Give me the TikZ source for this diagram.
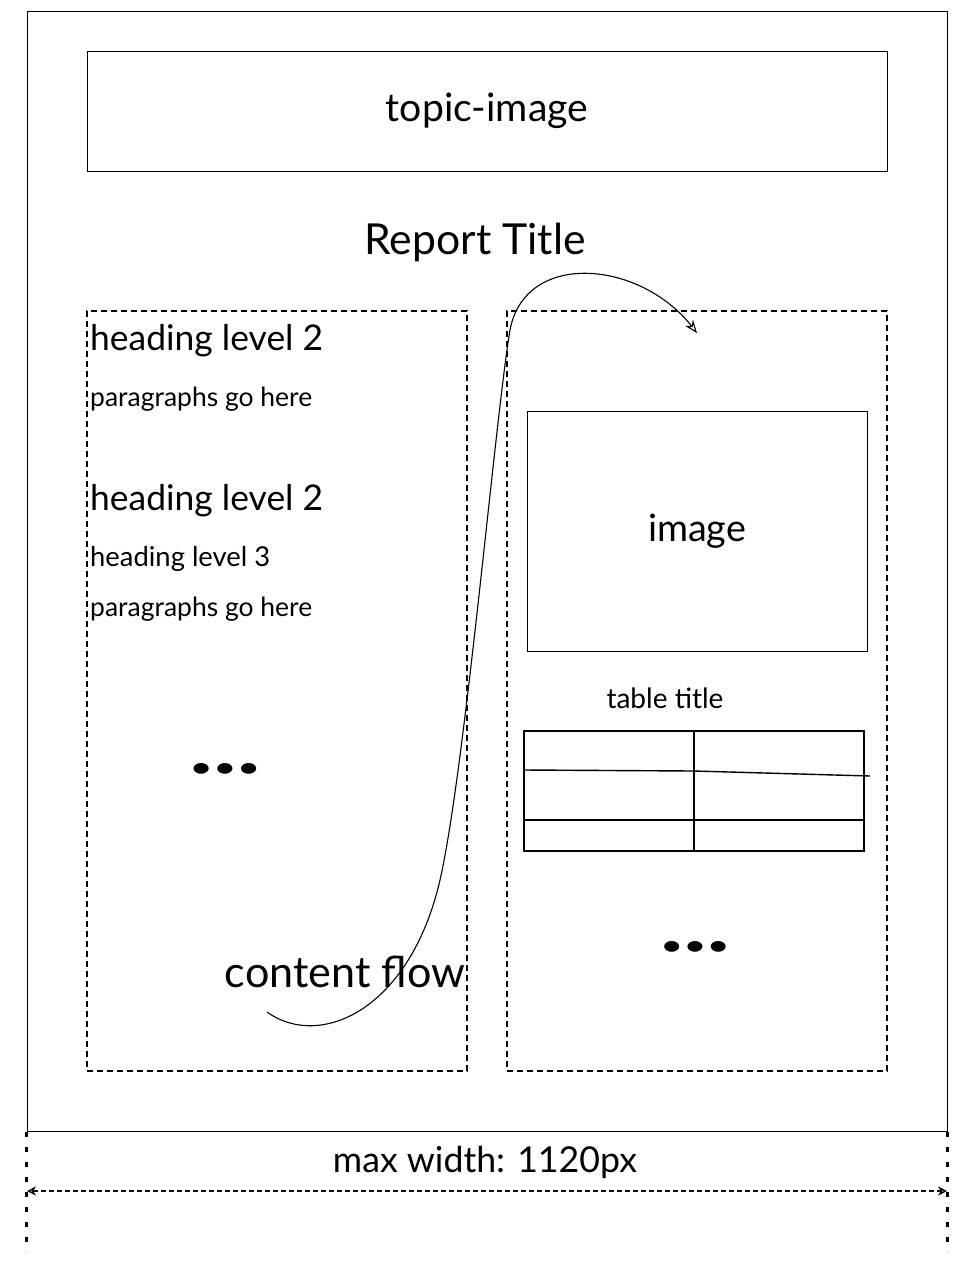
\documentclass[tikz,border=0pt]{standalone}
\usepackage{fontspec}
\setmainfont{Lato}
\usetikzlibrary{arrows.meta,calc}
\newcommand{\fitw}[2]{\resizebox{#1pt}{!}{#2}}
\begin{document}
\begin{tikzpicture}[x=1pt,y=-1pt,
  box/.style={draw, line width=1pt, inner sep=0pt},
  dbox/.style={draw, line width=1.2pt, dash pattern=on 6pt off 4pt, inner sep=0pt},
  txt/.style={inner sep=0pt},
  tline/.style={line width=1.4pt},
  flow/.style={line width=1.1pt, -{Stealth[open,length=13pt,width=10pt]}},
  dimline/.style={line width=1.3pt, dash pattern=on 5pt off 3pt, {Stealth[open,length=9pt,width=9pt]}-{Stealth[open,length=9pt,width=9pt]}},
  guide/.style={line width=2.5pt, dash pattern=on 5pt off 10pt},
  ]
\useasboundingbox (0,0) rectangle (976,1266);
\fill[white] (0,0) rectangle (976,1266);
% frames
\node[box, minimum width=920pt, minimum height=1120pt] (page) at (487,571) {};
\node[box, minimum width=800pt, minimum height=120pt] (topic) at (487,111) {\fitw{202}{topic-image}};
\node[txt] (title) at (475,242) {\fitw{221}{Report Title}};
\node[dbox, minimum width=380pt, minimum height=760pt] (left) at (277,691) {};
\node[dbox, minimum width=380pt, minimum height=760pt] (right) at (697,691) {};
% left column text
\node[txt, anchor=west] (h2a) at (90,341) {\fitw{233}{heading level 2}};
\node[txt, anchor=west] (pa) at (90,399) {\fitw{222}{paragraphs go here}};
\node[txt, anchor=west] (h2b) at (90,501) {\fitw{233}{heading level 2}};
\node[txt, anchor=west] (h3) at (90,559) {\fitw{180}{heading level 3}};
\node[txt, anchor=west] (pb) at (90,609) {\fitw{222}{paragraphs go here}};
\node[txt] (dotsL) at (225,770) {\resizebox{71pt}{14pt}{•••}};
% right column
\node[box, minimum width=340pt, minimum height=240pt] (image) at (697,531) {\fitw{98}{image}};
\node[txt] (ttitle) at (665,698) {\fitw{117}{table title}};
\node[box, line width=1.4pt, minimum width=340pt, minimum height=120pt] (table) at (694,791) {};
\draw[tline] (694,731) -- (694,851);
\draw[tline] (524,770) -- (694,771) -- (870,776);
\draw[tline] (524,820) -- (864,820);
\node[txt] (dotsR) at (695,948) {\resizebox{70pt}{14pt}{•••}};
% content flow
\node[txt] (cflow) at (345,972) {\fitw{240}{content flow}};
\coordinate (flowS) at (267,1012);
\coordinate (flowM) at (440,880);
\coordinate (flowN) at (510,330);
\coordinate (flowE) at (697,333);
\draw[flow] (flowS) .. controls (320,1050) and (410,1010) .. (flowM)
  .. controls (465,770) and (495,420) .. (flowN)
  .. controls (525,250) and (640,260) .. (flowE);
% dimension
\coordinate (dimL) at (27,1191);
\coordinate (dimR) at (947,1191);
\draw[guide] (page.south west) -- ++(0,120);
\draw[guide] (page.south east) -- ++(0,120);
\draw[dimline] (dimL) -- (dimR);
\node[txt] (maxw) at (485,1162) {\fitw{304}{max width: 1120px}};
\end{tikzpicture}
\end{document}
